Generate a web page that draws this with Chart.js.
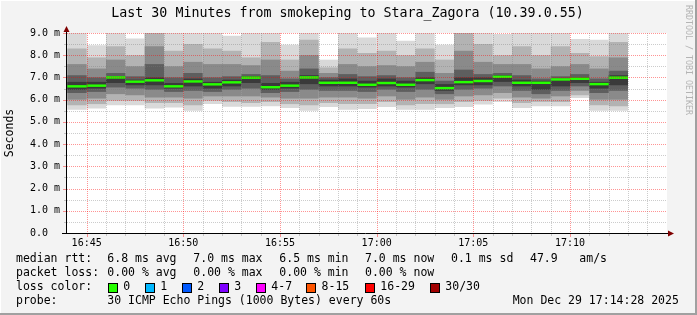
<!DOCTYPE html>
<html>
<head>
<meta charset="utf-8">
<script src="https://cdn.jsdelivr.net/npm/chart.js@4.4.1/dist/chart.umd.min.js"></script>
<style>
  html, body { margin: 0; padding: 0; background: #f3f3f3; }
  canvas { display: block; }
</style>
</head>
<body>
<canvas id="c" width="697" height="315"></canvas>
<script>
// ---------------- data ----------------
const titleText = 'Last 30 Minutes from smokeping to Stara_Zagora (10.39.0.55)';
const watermark = 'RRDTOOL / TOBI OETIKER';
const yAxisTitle = 'Seconds';

// start time of each one-minute bin
const binStarts = ['16:44','16:45','16:46','16:47','16:48','16:49','16:50','16:51','16:52','16:53',
                   '16:54','16:55','16:56','16:57','16:58','16:59','17:00','17:01','17:02','17:03',
                   '17:04','17:05','17:06','17:07','17:08','17:09','17:10','17:11','17:12'];
const axisStart = '16:44:30';
const axisEnd   = '17:14:30';
const xTickLabels = ['16:45','16:50','16:55','17:00','17:05','17:10'];
const yTickValues = [0, 1, 2, 3, 4, 5, 6, 7, 8, 9];
const yTickLabels = ['0.0  ','1.0 m','2.0 m','3.0 m','4.0 m','5.0 m','6.0 m','7.0 m','8.0 m','9.0 m'];

// median rtt per bin (ms)
const medianRtt = [6.60,6.63,7.00,6.81,6.87,6.60,6.82,6.69,6.78,6.99,
                   6.56,6.63,7.00,6.76,6.76,6.67,6.75,6.67,6.88,6.52,
                   6.79,6.84,7.03,6.76,6.76,6.91,6.94,6.70,6.99];

// smoke bands (ms), outermost (1) to innermost (5)
const smoke1Lo = [5.55,5.60,5.75,5.75,5.60,5.65,5.50,5.80,5.68,5.68,5.70,5.62,5.50,5.67,5.55,5.58,5.67,5.55,5.55,5.62,5.67,5.78,5.90,5.62,5.70,5.70,6.07,5.50,5.50];
const smoke1Hi = [9.00,8.45,9.00,8.75,9.00,9.00,9.00,9.00,8.88,9.00,9.00,8.47,9.00,7.80,9.00,8.80,9.00,8.65,9.00,8.47,9.00,9.00,8.95,9.00,9.00,9.00,8.73,8.70,9.00];
const smoke2Lo = [5.75,5.80,5.95,5.95,5.85,5.85,5.75,5.95,5.90,5.85,5.90,5.80,5.75,5.85,5.80,5.80,5.90,5.75,5.80,5.80,5.90,5.95,6.05,5.85,5.90,5.90,6.20,5.75,5.70];
const smoke2Hi = [8.30,7.90,8.40,8.00,9.00,8.20,8.50,8.30,8.20,7.90,8.60,7.80,8.70,7.45,8.30,8.10,8.20,8.00,8.30,7.80,9.00,8.50,8.00,8.40,8.00,8.40,8.10,7.95,8.60];
const smoke3Lo = [6.00,6.05,6.25,6.20,6.10,6.10,6.05,6.15,6.15,6.15,6.10,6.05,6.05,6.10,6.10,6.05,6.15,6.00,6.10,6.00,6.15,6.20,6.30,6.10,6.05,6.15,6.40,6.00,6.00];
const smoke3Hi = [7.60,7.40,7.80,7.50,8.40,7.50,7.70,7.60,7.60,7.55,7.80,7.30,8.00,7.20,7.60,7.50,7.55,7.50,7.70,7.20,8.20,7.70,7.60,7.60,7.40,7.50,7.60,7.40,7.90];
const smoke4Lo = [6.30,6.35,6.55,6.50,6.45,6.35,6.40,6.35,6.45,6.50,6.30,6.35,6.45,6.40,6.40,6.35,6.45,6.35,6.45,6.25,6.45,6.50,6.60,6.40,6.25,6.40,6.60,6.30,6.40];
const smoke4Hi = [7.10,7.00,7.20,7.05,7.60,7.00,7.20,7.00,7.05,7.15,7.10,6.95,7.40,7.00,7.15,7.05,7.10,7.00,7.25,6.85,7.35,7.15,7.20,7.10,6.95,7.05,7.15,6.95,7.30];
const smoke5Lo = [6.45,6.50,6.75,6.65,6.65,6.50,6.60,6.50,6.60,6.75,6.45,6.50,6.70,6.60,6.60,6.55,6.60,6.55,6.70,6.40,6.65,6.65,6.80,6.60,6.45,6.60,6.75,6.50,6.65];
const smoke5Hi = [6.80,6.80,7.05,6.90,7.00,6.75,6.95,6.80,6.90,7.05,6.75,6.80,7.10,6.90,6.95,6.85,6.95,6.85,7.00,6.70,7.00,7.00,7.10,6.90,6.85,6.95,7.00,6.80,7.10];

// legend texts
const medianRttStats  = ['6.8 ms avg','7.0 ms max','6.5 ms min','7.0 ms now','0.1 ms sd','47.9','am/s'];
const packetLossStats = ['0.00 % avg','0.00 % max','0.00 % min','0.00 % now'];
const lossLabels = ['0','1','2','3','4-7','8-15','16-29','30/30'];
const lossColors = ['#26ff00','#00b8ff','#0059ff','#7e00ff','#ff00ff','#ff5500','#ff0000','#a10000'];
const probeText = '30 ICMP Echo Pings (1000 Bytes) every 60s';
const dateText  = 'Mon Dec 29 17:14:28 2025';

// ---------------- styles ----------------
const FONT = '"DejaVu Sans Mono", monospace';
const smokeColors = ['#d9d9d9','#b3b3b3','#8a8a8a','#5e5e5e','#3a3a3a'];
const medianColor = '#26ff00';
const medianHalf = 0.055;
const majorGrid = 'rgba(255,0,0,0.42)';
const minorGrid = 'rgba(120,120,120,0.38)';

function toMin(t) {
  const p = t.split(':').map(Number);
  return p[0] * 60 + p[1] + (p[2] || 0) / 60 - (16 * 60 + 45);
}
function fmtTime(m) {
  const tot = 16 * 60 + 45 + m;
  const h = Math.floor(tot / 60), mm = Math.round(tot % 60);
  return h + ':' + String(mm).padStart(2, '0');
}

const smokeLayers = [[smoke1Lo, smoke1Hi],[smoke2Lo, smoke2Hi],[smoke3Lo, smoke3Hi],[smoke4Lo, smoke4Hi],[smoke5Lo, smoke5Hi]];
const xCenters = binStarts.map(t => toMin(t) + 0.5);

const barCommon = {
  type: 'bar', grouped: false, barPercentage: 1, categoryPercentage: 1,
  borderWidth: 0, inflateAmount: 0, clip: 0
};
const datasets = smokeLayers.map((pair, i) => Object.assign({}, barCommon, {
  label: 'smoke' + (i + 1),
  data: xCenters.map((x, j) => ({ x: x, y: [pair[0][j], pair[1][j]] })),
  backgroundColor: smokeColors[i],
  order: 10 - i
}));
datasets.push(Object.assign({}, barCommon, {
  label: 'median rtt',
  data: xCenters.map((x, j) => ({ x: x, y: [medianRtt[j] - medianHalf, medianRtt[j] + medianHalf] })),
  backgroundColor: medianColor,
  order: 1
}));

const xMin = toMin(axisStart), xMax = toMin(axisEnd);
const xMinorTicks = [];
for (let m = Math.ceil(xMin); m <= xMax; m++) xMinorTicks.push(m);
const yGridStep = 0.5;
const yMinorTicks = [];
for (let v = yTickValues[0]; v <= yTickValues[yTickValues.length - 1] + 1e-9; v += yGridStep) yMinorTicks.push(v);

const decor = {
  id: 'decor',
  beforeDraw(chart) {
    const c = chart.ctx, a = chart.chartArea;
    c.save();
    c.fillStyle = '#f3f3f3';
    c.fillRect(0, 0, chart.width, chart.height);
    c.fillStyle = '#ffffff';
    c.fillRect(a.left, a.top, a.right - a.left, a.bottom - a.top);
    c.restore();
  },
  afterDatasetsDraw(chart) {
    // dotted grid drawn over the smoke, positioned via the chart's scales
    const c = chart.ctx, a = chart.chartArea;
    const xs = chart.scales.x, ys = chart.scales.y;
    c.save();
    yMinorTicks.forEach(v => {
      if (v === yTickValues[0]) return;
      const py = Math.round(ys.getPixelForValue(v));
      const major = yTickValues.includes(v);
      c.fillStyle = major ? majorGrid : minorGrid;
      for (let px = Math.round(a.left); px < a.right; px += 2) c.fillRect(px, py, 1, 1);
      c.fillRect(Math.round(a.left) - (major ? 4 : 3), py, major ? 3 : 2, 1);
    });
    xMinorTicks.forEach(v => {
      const px = Math.round(xs.getPixelForValue(v));
      const major = xTickLabels.includes(fmtTime(v));
      c.fillStyle = major ? majorGrid : minorGrid;
      for (let py = Math.round(a.top); py < a.bottom; py += 2) c.fillRect(px, py, 1, 1);
      c.fillRect(px, Math.round(a.bottom) + 1, 1, major ? 3 : 2);
    });
    c.restore();
  },
  afterDraw(chart) {
    const c = chart.ctx, a = chart.chartArea;
    c.save();
    // frame
    c.fillStyle = '#ffffff';
    c.fillRect(0, 0, chart.width, 1);
    c.fillRect(0, 0, 1, chart.height);
    c.fillStyle = '#a0a0a0';
    c.fillRect(0, chart.height - 2, chart.width, 2);
    c.fillRect(chart.width - 2, 0, 2, chart.height);

    // axes
    c.strokeStyle = '#000';
    c.lineWidth = 1;
    c.beginPath();
    c.moveTo(a.left - 0.5, a.bottom + 0.5);
    c.lineTo(a.left - 0.5, a.top - 5);
    c.moveTo(a.left - 5, a.bottom + 0.5);
    c.lineTo(a.right + 2, a.bottom + 0.5);
    c.stroke();
    c.fillStyle = '#7f0000';
    c.beginPath();
    c.moveTo(a.left - 3.5, a.top - 1);
    c.lineTo(a.left + 2.5, a.top - 1);
    c.lineTo(a.left - 0.5, a.top - 7);
    c.closePath(); c.fill();
    c.beginPath();
    c.moveTo(a.right + 1, a.bottom - 2.5);
    c.lineTo(a.right + 1, a.bottom + 3.5);
    c.lineTo(a.right + 7, a.bottom + 0.5);
    c.closePath(); c.fill();

    // title
    c.fillStyle = '#000';
    c.textBaseline = 'middle';
    c.textAlign = 'center';
    c.font = '13.3px ' + FONT;
    c.fillText(titleText, 347.5, 14);

    // watermark
    c.save();
    c.translate(688, 5);
    c.rotate(Math.PI / 2);
    c.font = '8.3px ' + FONT;
    c.fillStyle = '#b4b4b4';
    c.textAlign = 'left';
    c.textBaseline = 'middle';
    c.fillText(watermark, 0, 0);
    c.restore();

    // legend
    c.font = '11.5px ' + FONT;
    c.textAlign = 'left';
    c.textBaseline = 'middle';
    c.fillStyle = '#000';
    const rows = [259.5, 273.5, 287.5, 301];
    const cols = [107.3, 193.3, 279.3, 365, 451, 530, 579.3];
    c.fillText('median rtt:', 16, rows[0]);
    medianRttStats.forEach((s, i) => c.fillText(s, cols[i], rows[0]));
    c.fillText('packet loss:', 16, rows[1]);
    packetLossStats.forEach((s, i) => c.fillText(s, cols[i], rows[1]));
    c.fillText('loss color:', 16, rows[2]);
    const boxX = [108.7, 145.7, 182.7, 219.7, 256.7, 307, 365.7, 430.7];
    lossLabels.forEach((l, i) => {
      c.fillStyle = lossColors[i];
      c.fillRect(Math.round(boxX[i]), 284, 8, 8);
      c.strokeStyle = '#000';
      c.strokeRect(Math.round(boxX[i]) - 0.5, 283.5, 9, 9);
      c.fillStyle = '#000';
      c.fillText(l, boxX[i] + 14.6, rows[2]);
    });
    c.fillText('probe:', 16, rows[3]);
    c.fillText(probeText, cols[0], rows[3]);
    c.fillText(dateText, 512.7, rows[3]);
    c.restore();
  }
};

new Chart(document.getElementById('c'), {
  type: 'bar',
  data: { datasets: datasets },
  options: {
    responsive: false,
    animation: false,
    devicePixelRatio: 1,
    events: [],
    layout: { padding: { top: 33, right: 30, bottom: 62, left: 0 } },
    plugins: { legend: { display: false }, tooltip: { enabled: false }, title: { display: false } },
    scales: {
      x: {
        type: 'linear',
        min: xMin, max: xMax,
        afterBuildTicks: s => { s.ticks = xMinorTicks.map(v => ({ value: v })); },
        afterFit: s => { s.height = 20; },
        ticks: {
          autoSkip: false, maxRotation: 0, padding: 4,
          color: '#000', font: { family: FONT, size: 10 },
          callback: v => { const t = fmtTime(v); return xTickLabels.includes(t) ? t : ''; }
        },
        grid: { display: false, drawTicks: false },
        border: { display: false }
      },
      y: {
        type: 'linear',
        min: yTickValues[0], max: yTickValues[yTickValues.length - 1],
        afterBuildTicks: s => { s.ticks = yMinorTicks.map(v => ({ value: v })); },
        afterFit: s => { s.width = 67; },
        ticks: {
          padding: 7, color: '#000', font: { family: FONT, size: 10 },
          callback: v => { const i = yTickValues.indexOf(v); return i >= 0 ? yTickLabels[i] : ''; }
        },
        grid: { display: false, drawTicks: false },
        border: { display: false },
        title: {
          display: true, text: yAxisTitle, color: '#000',
          font: { family: FONT, size: 11.5 }, padding: { top: 3, bottom: 0 }
        }
      }
    }
  },
  plugins: [decor]
});
</script>
</body>
</html>
